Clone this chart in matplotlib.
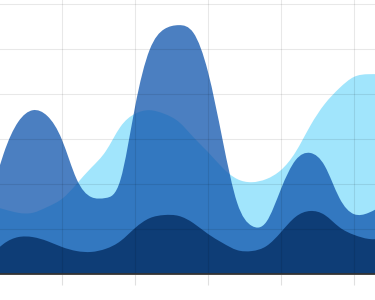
import numpy as np
import matplotlib
matplotlib.use('Agg')
import matplotlib.pyplot as plt
from matplotlib.path import Path
from matplotlib.patches import PathPatch

# values, one per 2 units of x
x = np.arange(0, 56, 2)

back = [15.3, 14.4, 13.6, 13.6, 14.9, 16.7, 20.0, 23.6, 27.3, 32.7, 35.6, 36.4, 35.6, 33.8,
        30.4, 27.1, 23.6, 21.1, 20.4, 21.1, 23.1, 27.1, 32.9, 37.8, 41.3, 43.8, 44.4, 44.4]
middle = [15.3, 26.7, 33.8, 36.4, 35.1, 29.8, 21.1, 17.1, 16.9, 20.9, 37.1, 49.8, 54.4, 55.3,
          53.6, 44.9, 29.8, 15.8, 10.7, 11.6, 18.9, 25.3, 26.9, 24.0, 16.9, 13.3, 13.6, 15.3]
front = [3.6, 6.7, 8.2, 8.2, 7.3, 6.0, 5.1, 4.9, 5.6, 7.3, 10.2, 12.4, 13.1, 12.9,
         11.3, 8.9, 6.9, 5.3, 5.1, 6.2, 9.3, 12.7, 14.0, 13.1, 10.4, 8.7, 7.8, 7.8]

x_ticks = [10, 20, 30, 40, 50]
y_grid = [10, 20, 30, 40, 50, 60]


def smooth_area(ax, xs, ys, **kw):
    # natural cubic spline through the points as bezier segments, filled to zero
    xs = np.asarray(xs, float)
    ys = np.asarray(ys, float)
    n = len(xs)
    h = xs[1] - xs[0]
    A = np.zeros((n, n))
    r = np.zeros(n)
    A[0, 0] = A[-1, -1] = 1
    for i in range(1, n - 1):
        A[i, i - 1:i + 2] = [1, 4, 1]
        r[i] = 6 * (ys[i + 1] - 2 * ys[i] + ys[i - 1]) / h ** 2
    M = np.linalg.solve(A, r)
    verts = [(xs[0], 0), (xs[0], ys[0])]
    codes = [Path.MOVETO, Path.LINETO]
    for i in range(n - 1):
        s = (ys[i + 1] - ys[i]) / h
        d0 = s - h * (2 * M[i] + M[i + 1]) / 6
        d1 = s + h * (M[i] + 2 * M[i + 1]) / 6
        verts += [(xs[i] + h / 3, ys[i] + d0 * h / 3),
                  (xs[i + 1] - h / 3, ys[i + 1] - d1 * h / 3),
                  (xs[i + 1], ys[i + 1])]
        codes += [Path.CURVE4] * 3
    verts += [(xs[-1], 0), (xs[0], 0)]
    codes += [Path.LINETO, Path.CLOSEPOLY]
    ax.add_patch(PathPatch(Path(verts, codes), lw=0, **kw))


fig = plt.figure(figsize=(3.75, 3.0), dpi=100)
ax = fig.add_axes([0, 26 / 300, 1, 274 / 300])

smooth_area(ax, x, back, facecolor='#a1e5fc', zorder=1)
smooth_area(ax, x, middle, facecolor='#0e54ac', alpha=0.75, zorder=1.1)
smooth_area(ax, x, front, facecolor='#0e3d76', zorder=1.2)

ax.set_xlim(11 / 7.3, 386 / 7.3)
ax.set_ylim(0, 274 / 4.5)
ax.set_xticks(x_ticks)
ax.set_yticks(y_grid)
ax.set_xticklabels([])
ax.set_yticklabels([])
ax.tick_params(axis='x', direction='out', length=8, width=0.8, color='#e0e0e0')
ax.tick_params(axis='y', length=0)
ax.set_axisbelow(False)
ax.grid(True, color='k', alpha=0.09, lw=0.8)
for s in ['top', 'left', 'right']:
    ax.spines[s].set_visible(False)
ax.spines['bottom'].set_color('#333333')
ax.spines['bottom'].set_linewidth(1.3)
ax.spines['bottom'].set_zorder(3)

fig.savefig('out.png', dpi=100)
